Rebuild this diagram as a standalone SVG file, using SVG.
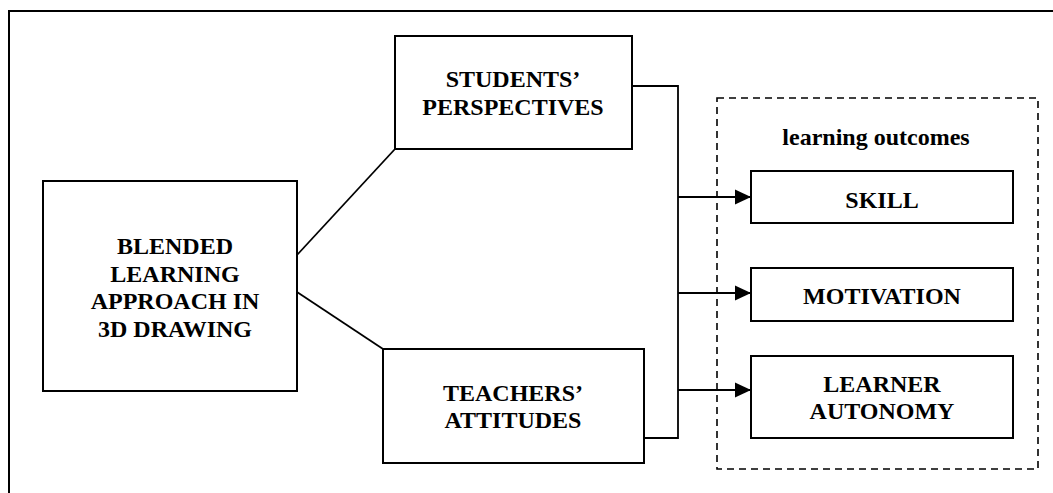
<svg xmlns="http://www.w3.org/2000/svg" width="1053" height="493" viewBox="0 0 1053 493">
<defs>
<style>
.box{fill:#fff;stroke:#000;stroke-width:2}
.ln{fill:none;stroke:#000;stroke-width:1.8}
.ar{fill:none;stroke:#000;stroke-width:2.2}
.t{font-family:"Liberation Serif","Times New Roman",serif;font-weight:bold;font-size:24px;text-anchor:middle;fill:#000}
</style>
<marker id="ah" markerUnits="userSpaceOnUse" markerWidth="17" markerHeight="17" viewBox="0 0 17 17" refX="16" refY="8.5" orient="auto">
<path d="M0,1 L16,8.5 L0,16 Z" fill="#000"/>
</marker>
</defs>
<rect width="1053" height="493" fill="#fff"/>
<path d="M9,493 V11 H1053" fill="none" stroke="#000" stroke-width="2"/>
<g id="group-outcomes">
<rect x="717" y="98" width="321" height="371" fill="none" stroke="#000" stroke-width="1.6" stroke-dasharray="7,5"/>
<text class="t" x="876" y="145">learning outcomes</text>
</g>
<g id="connectors">
<path class="ln" d="M297,255 L395,149"/>
<path class="ln" d="M297,292 L383,349"/>
<path class="ln" d="M632,86 H678 V438 H644"/>
<path class="ar" d="M678,197 H751" marker-end="url(#ah)"/>
<path class="ar" d="M678,293 H751" marker-end="url(#ah)"/>
<path class="ar" d="M678,390 H751" marker-end="url(#ah)"/>
</g>
<g id="blended">
<rect class="box" x="43" y="181" width="254" height="210"/>
<text class="t" x="175" y="254">BLENDED</text>
<text class="t" x="175" y="282">LEARNING</text>
<text class="t" x="175" y="309">APPROACH IN</text>
<text class="t" x="175" y="337">3D DRAWING</text>
</g>
<g id="students">
<rect class="box" x="395" y="36" width="237" height="113"/>
<text class="t" x="513" y="87">STUDENTS’</text>
<text class="t" x="513" y="115">PERSPECTIVES</text>
</g>
<g id="teachers">
<rect class="box" x="383" y="349" width="261" height="114"/>
<text class="t" x="513" y="401">TEACHERS’</text>
<text class="t" x="513" y="428">ATTITUDES</text>
</g>
<g id="skill">
<rect class="box" x="751" y="171" width="262" height="52"/>
<text class="t" x="882" y="208">SKILL</text>
</g>
<g id="motivation">
<rect class="box" x="751" y="268" width="262" height="53"/>
<text class="t" x="882" y="304">MOTIVATION</text>
</g>
<g id="autonomy">
<rect class="box" x="751" y="356" width="262" height="82"/>
<text class="t" x="882" y="392">LEARNER</text>
<text class="t" x="882" y="419">AUTONOMY</text>
</g>
</svg>
